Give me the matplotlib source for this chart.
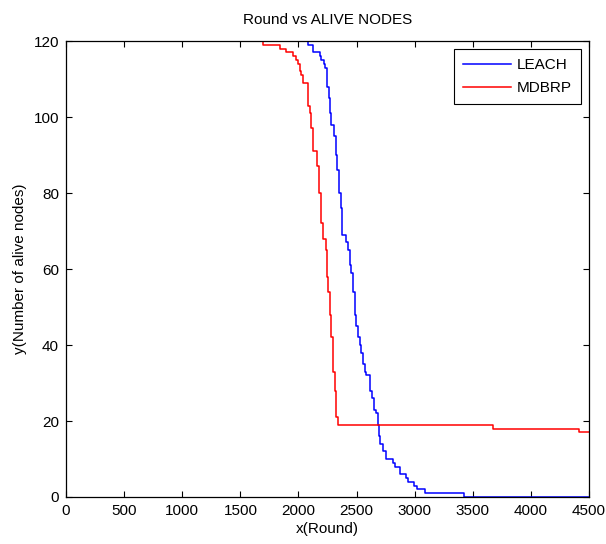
import matplotlib
matplotlib.use('Agg')
import matplotlib.pyplot as plt

plt.rcParams['font.family'] = ['Liberation Sans', 'DejaVu Sans']

# step breakpoints: (round, alive nodes from that round on)
leach_rounds = [0, 2081, 2124, 2181, 2196, 2216, 2230, 2244, 2259, 2273, 2284,
                2302, 2319, 2333, 2347, 2362, 2376, 2410, 2425, 2439, 2453,
                2467, 2482, 2496, 2510, 2525, 2539, 2553, 2568, 2582, 2619,
                2634, 2654, 2668, 2682, 2691, 2705, 2725, 2750, 2816, 2830,
                2874, 2922, 2945, 2997, 3017, 3089, 3424, 4500]
leach_alive = [120, 119, 117, 116, 115, 114, 113, 108, 105, 101, 98,
               95, 90, 86, 80, 76, 69, 67, 65, 61, 59,
               54, 48, 45, 42, 40, 38, 35, 33, 32, 28,
               26, 23, 22, 19, 16, 14, 12, 10, 9, 8,
               6, 5, 4, 3, 2, 1, 0, 0]

mdbrp_rounds = [0, 1698, 1838, 1889, 1952, 1975, 1995, 2010, 2024, 2041, 2081,
                2096, 2110, 2124, 2158, 2173, 2190, 2196, 2210, 2239, 2248,
                2253, 2267, 2282, 2296, 2310, 2325, 2339, 3677, 4417, 4500]
mdbrp_alive = [120, 119, 118, 117, 116, 115, 114, 112, 111, 109, 103,
               101, 97, 91, 87, 80, 75, 72, 68, 65, 58,
               54, 48, 42, 33, 28, 21, 19, 18, 17, 17]

fs = 11

fig = plt.figure(figsize=(6.06, 5.44), dpi=100)
ax = fig.add_axes([0.109, 0.0864, 0.863, 0.8382])

ax.step(leach_rounds, leach_alive, where='post', color='#0000ff', lw=1.1, label='LEACH')
ax.step(mdbrp_rounds, mdbrp_alive, where='post', color='#ff0000', lw=1.1, label='MDBRP')

ax.set_xlim(0, 4500)
ax.set_ylim(0, 120)
ax.set_xticks(range(0, 4501, 500))
ax.set_yticks(range(0, 121, 20))
ax.tick_params(direction='in', length=4, width=0.8, top=True, right=True,
               labelsize=fs, pad=5)
for s in ax.spines.values():
    s.set_linewidth(0.9)

ax.set_title('Round vs ALIVE NODES', fontsize=fs, pad=12)
ax.set_xlabel('x(Round)', fontsize=fs, labelpad=3)
ax.set_ylabel('y(Number of alive nodes)', fontsize=fs, labelpad=5)

leg = ax.legend(loc='upper right', fontsize=fs, fancybox=False, framealpha=1,
                edgecolor='black', handlelength=3.1, handletextpad=0.4,
                labelspacing=0.6, borderpad=0.58, borderaxespad=0.55)
leg.get_frame().set_linewidth(0.8)

fig.savefig('out.png', dpi=100)
